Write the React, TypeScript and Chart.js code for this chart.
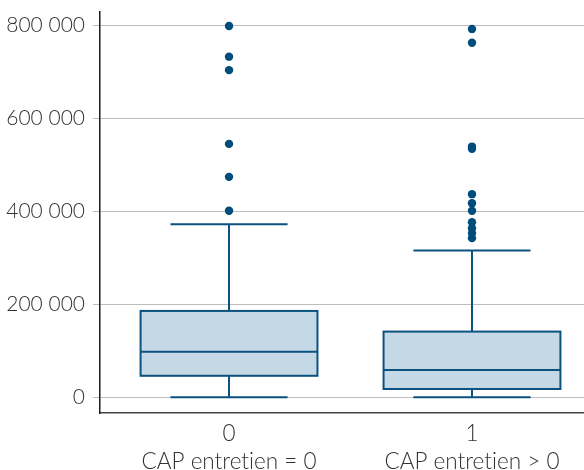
import React, { useEffect, useRef } from 'react';
import { Chart, registerables } from 'chart.js';

Chart.register(...registerables);

const categories = ['0', '1'];
const subLabels = ['CAP entret\u200Cien = 0', 'CAP entret\u200Cien > 0'];
const q1 = [46000, 17600];
const median = [97500, 58300];
const q3 = [185400, 141000];
const whiskerLow = [0, 0];
const whiskerHigh = [372000, 315500];
const outliers0 = [798000, 732000, 703000, 544500, 473600, 400900];
const outliers1 = [791400, 762000, 538700, 533800, 436400, 417000, 400600, 376300, 363400, 352700, 341900];
const yTicks = [0, 200000, 400000, 600000, 800000];

const STROKE = '#0b527f';
const FILL = '#c5d8e6';
const DOT = '#004c7a';
const BOX_HALF = 0.364;
const CAP_HALF = 0.241;

const boxPlugin = {
  id: 'boxes',
  beforeDatasetsDraw(chart: any) {
    const { ctx, scales } = chart;
    const x = scales.x;
    const y = scales.y;
    ctx.save();
    ctx.strokeStyle = STROKE;
    ctx.lineWidth = 2;
    for (let i = 0; i < categories.length; i++) {
      const cx = x.getPixelForValue(i);
      const bl = x.getPixelForValue(i - BOX_HALF);
      const br = x.getPixelForValue(i + BOX_HALF);
      const cl = x.getPixelForValue(i - CAP_HALF);
      const cr = x.getPixelForValue(i + CAP_HALF);
      const yq1 = y.getPixelForValue(q1[i]);
      const yq3 = y.getPixelForValue(q3[i]);
      const ym = y.getPixelForValue(median[i]);
      const ylo = y.getPixelForValue(whiskerLow[i]);
      const yhi = y.getPixelForValue(whiskerHigh[i]);
      ctx.beginPath();
      ctx.moveTo(cx, yq3);
      ctx.lineTo(cx, yhi);
      ctx.moveTo(cl, yhi);
      ctx.lineTo(cr, yhi);
      ctx.moveTo(cx, yq1);
      ctx.lineTo(cx, ylo);
      ctx.moveTo(cl, ylo);
      ctx.lineTo(cr, ylo);
      ctx.stroke();
      ctx.fillStyle = FILL;
      ctx.fillRect(bl, yq3, br - bl, yq1 - yq3);
      ctx.strokeRect(bl, yq3, br - bl, yq1 - yq3);
      ctx.beginPath();
      ctx.moveTo(bl, ym);
      ctx.lineTo(br, ym);
      ctx.stroke();
    }
    ctx.restore();
  },
};

const fmt = (v: number) => {
  const s = Math.round(v).toString();
  return s.replace(/\B(?=(\d{3})+(?!\d))/g, ' ');
};

export default function App() {
  const ref = useRef<HTMLCanvasElement>(null);
  useEffect(() => {
    if (!ref.current) return;
    const yFont = { family: 'Lato', size: 21, weight: 300 as any, lineHeight: 1.35 };
    const xFont = { family: 'Lato', size: 22.5, weight: 300 as any, lineHeight: 1.25 };
    const chart = new Chart(ref.current, {
      type: 'scatter',
      data: {
        datasets: [
          {
            data: outliers0.map((v) => ({ x: 0, y: v })),
            backgroundColor: DOT,
            borderWidth: 0,
            pointRadius: 4.2,
          },
          {
            data: outliers1.map((v) => ({ x: 1, y: v })),
            backgroundColor: DOT,
            borderWidth: 0,
            pointRadius: 4.2,
          },
        ],
      },
      options: {
        animation: false,
        responsive: false,
        layout: { autoPadding: false, padding: { top: 12, right: 0, left: 0, bottom: 0 } },
        plugins: { legend: { display: false }, tooltip: { enabled: false } },
        scales: {
          x: {
            type: 'linear',
            min: -0.531,
            max: 1.461,
            afterBuildTicks: (s: any) => {
              s.ticks = categories.map((_, i) => ({ value: i }));
            },
            afterFit: (s: any) => {
              s.height = 57;
              s.paddingLeft = 0;
              s.paddingRight = 0;
            },
            grid: { display: true, drawOnChartArea: false, drawTicks: false },
            border: { display: true, color: '#444', width: 1.5 },
            ticks: {
              padding: 7,
              color: '#333',
              font: xFont,
              maxRotation: 0,
              callback: (v: any) => [categories[v], subLabels[v]],
            },
          },
          y: {
            type: 'linear',
            min: -34000,
            max: 828000,
            afterBuildTicks: (s: any) => {
              s.ticks = yTicks.map((v) => ({ value: v }));
            },
            afterFit: (s: any) => {
              s.width = 100;
              s.paddingTop = 0;
              s.paddingBottom = 0;
            },
            grid: { color: '#bdbdbd', lineWidth: 1, tickLength: 7, tickColor: '#bdbdbd' },
            border: { display: true, color: '#1a1a1a', width: 1.5 },
            ticks: {
              padding: 8,
              color: '#333',
              font: yFont,
              callback: (v: any) => fmt(v),
            },
          },
        },
      },
      plugins: [boxPlugin],
    });
    return () => chart.destroy();
  }, []);
  return (
    <div style={{ position: 'absolute', left: 0, top: 0, width: 584, height: 470 }}>
      <canvas ref={ref} width={584} height={470} />
    </div>
  );
}
